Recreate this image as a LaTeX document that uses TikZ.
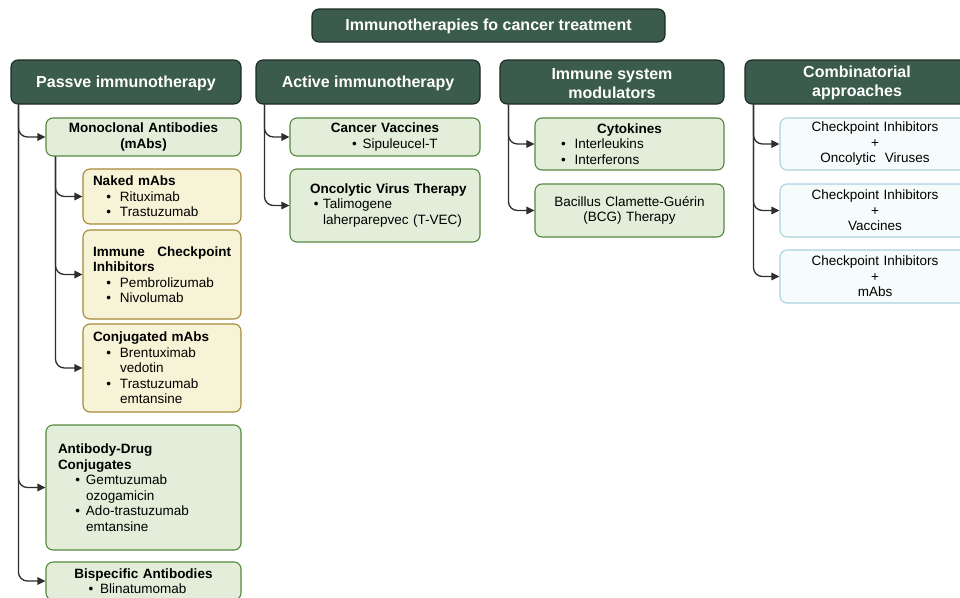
\documentclass[tikz,border=0pt]{standalone}
\usepackage{fontspec}
\setmainfont{Liberation Sans}
\usetikzlibrary{arrows.meta}
\definecolor{hdr}{HTML}{3B5B4C}
\definecolor{hdrb}{HTML}{1C2A23}
\definecolor{gfill}{HTML}{E2EED9}
\definecolor{gbord}{HTML}{55893E}
\definecolor{yfill}{HTML}{F7F3D6}
\definecolor{ybord}{HTML}{A58A38}
\definecolor{bfill}{HTML}{F6FBFC}
\definecolor{bbord}{HTML}{A9D3DF}
\definecolor{connc}{HTML}{2E2E2E}
\newcommand\bl[2]{\makebox[#1pt][r]{\textbullet\hspace{#2pt}}}
\newcommand\ind[1]{\hspace*{#1pt}}
\tikzset{
  hbox/.style={draw=hdrb, fill=hdr, line width=1.1pt, rounded corners=7pt, text=white,
    font=\fontsize{16}{19}\selectfont\bfseries, align=center, inner sep=0pt},
  box/.style={rounded corners=7pt, line width=1.1pt, inner ysep=0pt, inner xsep=10pt,
    font=\fontsize{13.5}{15.5}\selectfont},
  gbox/.style={box, draw=gbord, fill=gfill},
  ybox/.style={box, draw=ybord, fill=yfill},
  bbox/.style={box, draw=bbord, fill=bfill},
  arr/.style={draw=connc, line width=1.3pt, rounded corners=9pt, -{Triangle[length=8pt,width=7.5pt]}}
}
\begin{document}
\begin{tikzpicture}[x=1pt,y=-1pt]
\useasboundingbox (0,0) rectangle (960,597);
\clip (0,0) rectangle (960,597);
\fill[white] (0,0) rectangle (960,597);

% title and headers
\node[hbox, minimum width=353pt, minimum height=33pt, text height=13pt, font=\fontsize{16}{19}\selectfont\bfseries] (title) at (488.5,25.5) {Immunotherapies fo cancer treatment};
\node[hbox, minimum width=230pt, minimum height=44pt, text height=14pt] (hP) at (126,82) {Passve immunotherapy};
\node[hbox, minimum width=224pt, minimum height=44pt, text height=14pt] (hA) at (368,82) {Active immunotherapy};
\node[hbox, minimum width=224pt, minimum height=44pt] (hI) at (612,82) {\rule{0pt}{14pt}Immune system\\modulators};
\node[hbox, minimum width=224pt, minimum height=44pt] (hC) at (857,82) {\rule{0pt}{14pt}Combinatorial\\approaches};

% passive
\node[gbox, text width=175pt, minimum height=38pt, align=center] (mono) at (143.5,137)
  {\textbf{Monoclonal Antibodies}\\\textbf{(mAbs)}};
\node[ybox, text width=138pt, minimum height=55pt, align=left] (naked) at (162,196.5)
  {\textbf{Naked mAbs}\\\bl{27}{9}Rituximab\\\bl{27}{9}Trastuzumab};
\node[ybox, text width=138pt, minimum height=89pt, align=left] (ici) at (162,274.5)
  {\makebox[138pt][s]{\bfseries Immune\hfill Checkpoint}\\\textbf{Inhibitors}\\\bl{27}{9}Pembrolizumab\\\bl{27}{9}Nivolumab};
\node[ybox, text width=138pt, minimum height=88pt, align=left] (conj) at (162,368)
  {\textbf{Conjugated mAbs}\\\bl{27}{9}Brentuximab\\\ind{27}vedotin\\\bl{27}{9}Trastuzumab\\\ind{27}emtansine};
\node[gbox, text width=175pt, minimum height=125pt, align=left] (adc) at (143.5,487.5)
  {\ind{2}\textbf{Antibody-Drug}\\\ind{2}\textbf{Conjugates}\\\ind{2}\bl{28}{6}Gemtuzumab\\\ind{30}ozogamicin\\\ind{2}\bl{28}{6}Ado-trastuzumab\\\ind{30}emtansine};
\node[gbox, text width=175pt, minimum height=38pt, align=center] (bisp) at (143.5,581)
  {\textbf{Bispecific Antibodies}\\\makebox[110pt][l]{\textbullet\hspace{7pt}Blinatumomab}};

% active
\node[gbox, text width=170pt, minimum height=38pt, align=center] (vacc) at (385,137)
  {\textbf{Cancer Vaccines}\\\makebox[66pt][l]{\textbullet\hspace{6pt}Sipuleucel-T}};
\node[gbox, text width=170pt, minimum height=73pt, align=left] (onco) at (385,205.5)
  {\ind{10}\textbf{Oncolytic Virus Therapy}\\\ind{10}\bl{13}{4.5}Talimogene\\\ind{23}laherparepvec (T-VEC)};

% immune modulators
\node[gbox, text width=169pt, minimum height=52pt, align=center] (cyto) at (629.5,144)
  {\textbf{Cytokines}\\\makebox[137pt][l]{\textbullet\hspace{9pt}Interleukins}\\\makebox[137pt][l]{\textbullet\hspace{9pt}Interferons}};
\node[gbox, text width=169pt, minimum height=53pt, align=center] (bcg) at (629.5,210.5)
  {Bacillus Clamette-Guérin\\(BCG) Therapy};

% combinatorial
\node[bbox, text width=170pt, minimum height=52pt, align=center] (c1) at (875,144)
  {Checkpoint Inhibitors\\+\\Oncolytic\ \ Viruses};
\node[bbox, text width=170pt, minimum height=53pt, align=center] (c2) at (875,210.5)
  {Checkpoint Inhibitors\\+\\Vaccines};
\node[bbox, text width=170pt, minimum height=53pt, align=center] (c3) at (875,276.5)
  {Checkpoint Inhibitors\\+\\mAbs};

% connectors
\draw[arr] ([xshift=8pt]hP.south west) |- (mono.west);
\draw[arr] ([xshift=8pt]hP.south west) |- (adc.west);
\draw[arr] ([xshift=8pt]hP.south west) |- (bisp.west);
\draw[arr] ([xshift=10pt]mono.south west) |- (naked.west);
\draw[arr] ([xshift=10pt]mono.south west) |- (ici.west);
\draw[arr] ([xshift=10pt]mono.south west) |- (conj.west);
\draw[arr] ([xshift=9pt]hA.south west) |- (vacc.west);
\draw[arr] ([xshift=9pt]hA.south west) |- (onco.west);
\draw[arr] ([xshift=9pt]hI.south west) |- (cyto.west);
\draw[arr] ([xshift=9pt]hI.south west) |- (bcg.west);
\draw[arr] ([xshift=9pt]hC.south west) |- (c1.west);
\draw[arr] ([xshift=9pt]hC.south west) |- (c2.west);
\draw[arr] ([xshift=9pt]hC.south west) |- (c3.west);
\end{tikzpicture}
\end{document}
